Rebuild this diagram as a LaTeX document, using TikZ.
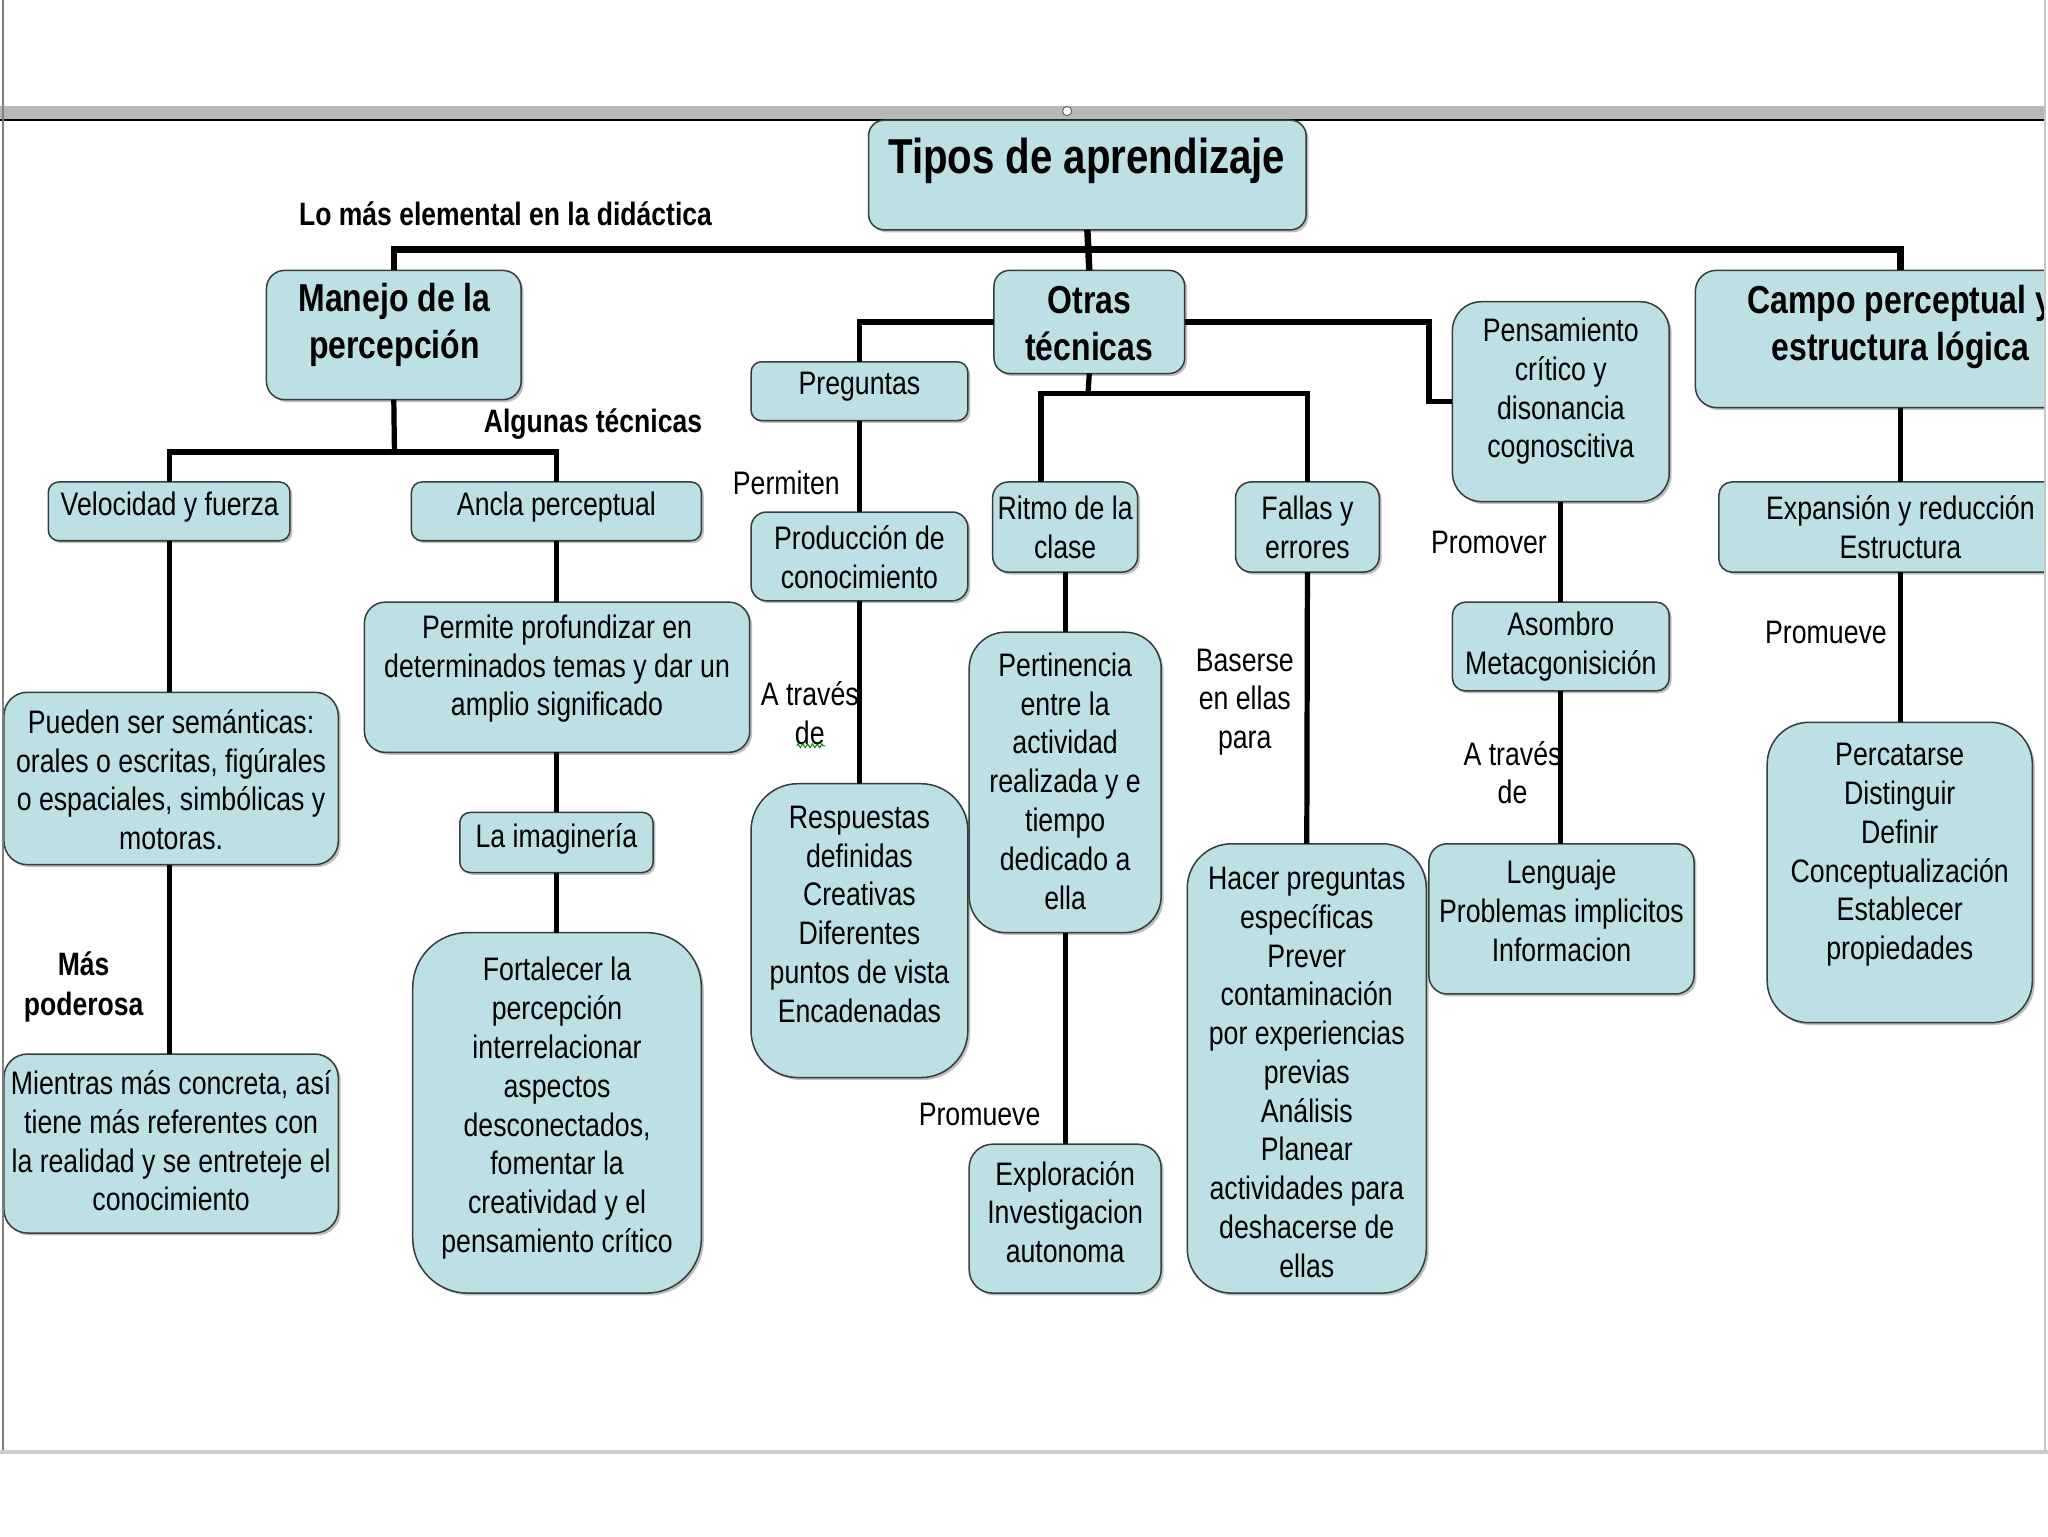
\documentclass[tikz,border=0pt]{standalone}
\usepackage{fontspec}
\setmainfont{Liberation Sans}[FakeStretch=0.82]
\usetikzlibrary{shadows,decorations.pathmorphing}
\definecolor{boxc}{RGB}{188,224,227}
\definecolor{bordc}{RGB}{55,60,60}
\def\pxu{0.65pt}
\newcommand\bodyf{\fontsize{16.2pt}{19.3pt}\selectfont}
\newcommand\headf{\fontsize{19.4pt}{23.4pt}\selectfont\bfseries}
\newcommand\titlef{\fontsize{24.4pt}{29pt}\selectfont\bfseries}
\newcommand\labf{\fontsize{16.1pt}{20.2pt}\selectfont\bfseries}
\tikzset{
  bx/.style n args={3}{draw=bordc, line width=0.75pt, fill=boxc,
    rounded corners={(#3)*\pxu}, minimum width={(#1)*\pxu}, minimum height={(#2)*\pxu},
    inner sep=0pt, outer sep=0pt,
    drop shadow={shadow xshift=1.2pt, shadow yshift=-1.2pt, fill=black, opacity=0.25}},
  txt/.style={align=center, inner sep=0pt, font=\bodyf},
  hd/.style={align=center, inner sep=0pt, font=\headf},
  ttl/.style={align=center, inner sep=0pt, font=\titlef},
  lab/.style={align=center, inner sep=0pt, font=\bodyf},
  blab/.style={align=center, inner sep=0pt, font=\labf},
  conn/.style={draw=black, line width=2.6pt},
  mainconn/.style={draw=black, line width=3.2pt},
}
\newcommand\mkbox[6]{\node[bx={#4-#2}{#5-#3}{#6}] (#1) at ({(#2+#4)/2},{(#3+#5)/2}) {};}
\begin{document}
\begin{tikzpicture}[x=0.65pt, y=-0.65pt]
\useasboundingbox (0,0) rectangle (1568,1176);
\fill[white] (0,0) rectangle (1568,1176);
\begin{scope}
\clip (0,0) rectangle (1566,1176);
% top band
\fill[black!28] (0,81) rectangle (1568,92);
\draw[black, line width=0.8pt] (0,92) -- (1568,92);
\node[circle, draw=black!60, fill=white, line width=0.5pt, inner sep=0pt, minimum size={7*\pxu}] (handle) at (817,85) {};

% labels
\node[blab] (lab1) at (387,164) {Lo más elemental en la didáctica};
\node[blab] (lab2) at (454,325) {Algunas técnicas};
\node[blab] (lab3) at (64,755.5) {Más\\poderosa};
\node[lab] (lab4) at (602,370) {Permiten};
\node[lab] (lab5) at (620,546) {A través\\de};
\draw[green!55!black, line width=0.5pt, decorate, decoration={zigzag, amplitude=0.9pt, segment length=2.4pt}] (610,571) -- (632,571);
\node[lab] (lab6) at (750,853) {Promueve};
\node[lab] (lab7) at (953,537.5) {Baserse\\en ellas\\para};
\node[lab] (lab8) at (1140,415) {Promover};
\node[lab] (lab9) at (1158,591.5) {A través\\de};
\node[lab] (lab10) at (1398,484) {Promueve};

% boxes
\mkbox{title}{665}{92}{1000}{176}{12}
\mkbox{manejo}{204}{207}{399}{306}{14}
\mkbox{otras}{761}{207}{907}{286}{12}
\mkbox{campo}{1298}{207}{1612}{312}{16}
\mkbox{velo}{37}{369}{222}{414}{8}
\mkbox{ancla}{315}{369}{537}{414}{8}
\mkbox{pueden}{3}{530}{259}{662}{18}
\mkbox{mient}{3}{807}{259}{944}{18}
\mkbox{permite}{279}{461}{574}{576}{16}
\mkbox{imag}{352}{622}{500}{668}{8}
\mkbox{fort}{316}{714}{537}{990}{42}
\mkbox{preg}{575}{277}{741}{322}{8}
\mkbox{prod}{575}{392}{741}{460}{12}
\mkbox{resp}{575}{600}{741}{825}{36}
\mkbox{ritmo}{760}{369}{871}{438}{12}
\mkbox{pert}{742}{484}{889}{714}{28}
\mkbox{expl}{742}{876}{889}{990}{18}
\mkbox{fallas}{946}{369}{1056}{438}{12}
\mkbox{hacer}{909}{646}{1092}{990}{34}
\mkbox{pens}{1112}{231}{1278}{384}{22}
\mkbox{asom}{1112}{461}{1278}{529}{10}
\mkbox{leng}{1094}{646}{1297}{761}{14}
\mkbox{expa}{1316}{369}{1594}{438}{10}
\mkbox{perc}{1353}{553}{1556}{783}{32}

% connectors
\coordinate (busM) at (833,191);
\coordinate (mb) at (302,346);
\coordinate (ob) at (833,301);
\coordinate (pk) at (1094,280);
\draw[mainconn] (title.south) -- (otras.north);
\draw[mainconn] (manejo.north) |- (busM) -| (campo.north);
\draw[conn] (manejo.south) -- (mb);
\draw[conn] (velo.north) |- (mb) -| (ancla.north);
\draw[conn] (velo.south) -- (velo.south |- pueden.north);
\draw[conn] (velo.south |- pueden.south) -- (velo.south |- mient.north);
\draw[conn] (ancla.south) -- (ancla.south |- permite.north);
\draw[conn] (ancla.south |- permite.south) -- (ancla.south |- imag.north);
\draw[conn] (ancla.south |- imag.south) -- (ancla.south |- fort.north);
\draw[conn] (otras.west) -| (preg.north);
\draw[conn] (preg.south) -- (prod.north);
\draw[conn] (prod.south) -- (resp.north);
\draw[conn] (otras.east) -| (pk) |- (pens.west);
\draw[conn] (otras.south) -- (ob);
\draw[conn] ([xshift={-18.5*\pxu}]ritmo.north) |- (ob) -| (fallas.north);
\draw[conn] (ritmo.south) -- (pert.north);
\draw[conn] (pert.south) -- (expl.north);
\draw[conn] (fallas.south) -- (hacer.north);
\draw[conn] (pens.south) -- (asom.north);
\draw[conn] (asom.south) -- (asom.south |- leng.north);
\draw[conn] (campo.south) -- (expa.north);
\draw[conn] (expa.south) -- (expa.south |- perc.north);

% box texts
\node[ttl] (title-t) at (832,123) {Tipos de aprendizaje};
\node[hd] (manejo-t) at (302,249) {Manejo de la\\percepción};
\node[hd] (otras-t) at (834,247.5) {Otras\\técnicas};
\node[hd] (campo-t) at (1455,250) {Campo perceptual y\\estructura lógica};
\node[txt] (velo-t) at (130,388) {Velocidad y fuerza};
\node[txt] (ancla-t) at (426,388) {Ancla perceptual};
\node[txt] (pueden-t) at (131,597) {Pueden ser semánticas:\\orales o escritas, figúrales\\o espaciales, simbólicas y\\motoras.};
\node[txt] (mient-t) at (131,873.5) {Mientras más concreta, así\\tiene más referentes con\\la realidad y se entreteje el\\conocimiento};
\node[txt] (permite-t) at (426.5,512) {Permite profundizar en\\determinados temas y dar un\\amplio significado};
\node[txt] (imag-t) at (426,642) {La imaginería};
\node[txt] (fort-t) at (426.5,848.5) {Fortalecer la\\percepción\\interrelacionar\\aspectos\\desconectados,\\fomentar la\\creatividad y el\\pensamiento crítico};
\node[txt] (preg-t) at (658,296) {Preguntas};
\node[txt] (prod-t) at (658,426.5) {Producción de\\conocimiento};
\node[txt] (resp-t) at (658,700) {Respuestas\\definidas\\Creativas\\Diferentes\\puntos de vista\\Encadenadas};
\node[txt] (ritmo-t) at (815.5,403.5) {Ritmo de la\\clase};
\node[txt] (pert-t) at (815.5,598) {Pertinencia\\entre la\\actividad\\realizada y e\\tiempo\\dedicado a\\ella};
\node[txt] (expl-t) at (815.5,928) {Exploración\\Investigacion\\autonoma};
\node[txt] (fallas-t) at (1001,403.5) {Fallas y\\errores};
\node[txt] (hacer-t) at (1000.5,821) {Hacer preguntas\\específicas\\Prever\\contaminación\\por experiencias\\previas\\Análisis\\Planear\\actividades para\\deshacerse de\\ellas};
\node[txt] (pens-t) at (1195,299.5) {Pensamiento\\crítico y\\disonancia\\cognoscitiva};
\node[txt] (asom-t) at (1195,495) {Asombro\\Metacgonisición};
\node[txt] (leng-t) at (1195.5,697.5) {Lenguaje\\Problemas implicitos\\Informacion};
\node[txt] (expa-t) at (1455,403.5) {Expansión y reducción\\Estructura};
\node[txt] (perc-t) at (1454.5,654.5) {Percatarse\\Distinguir\\Definir\\Conceptualización\\Establecer\\propiedades};
\end{scope}
% page frame
\draw[black!50, line width=1pt] (2,0) -- (2,1112);
\draw[black!22, line width=1pt] (1566,0) -- (1566,1112);
\draw[black!20, line width=2pt] (0,1112) -- (1568,1112);
\end{tikzpicture}
\end{document}
